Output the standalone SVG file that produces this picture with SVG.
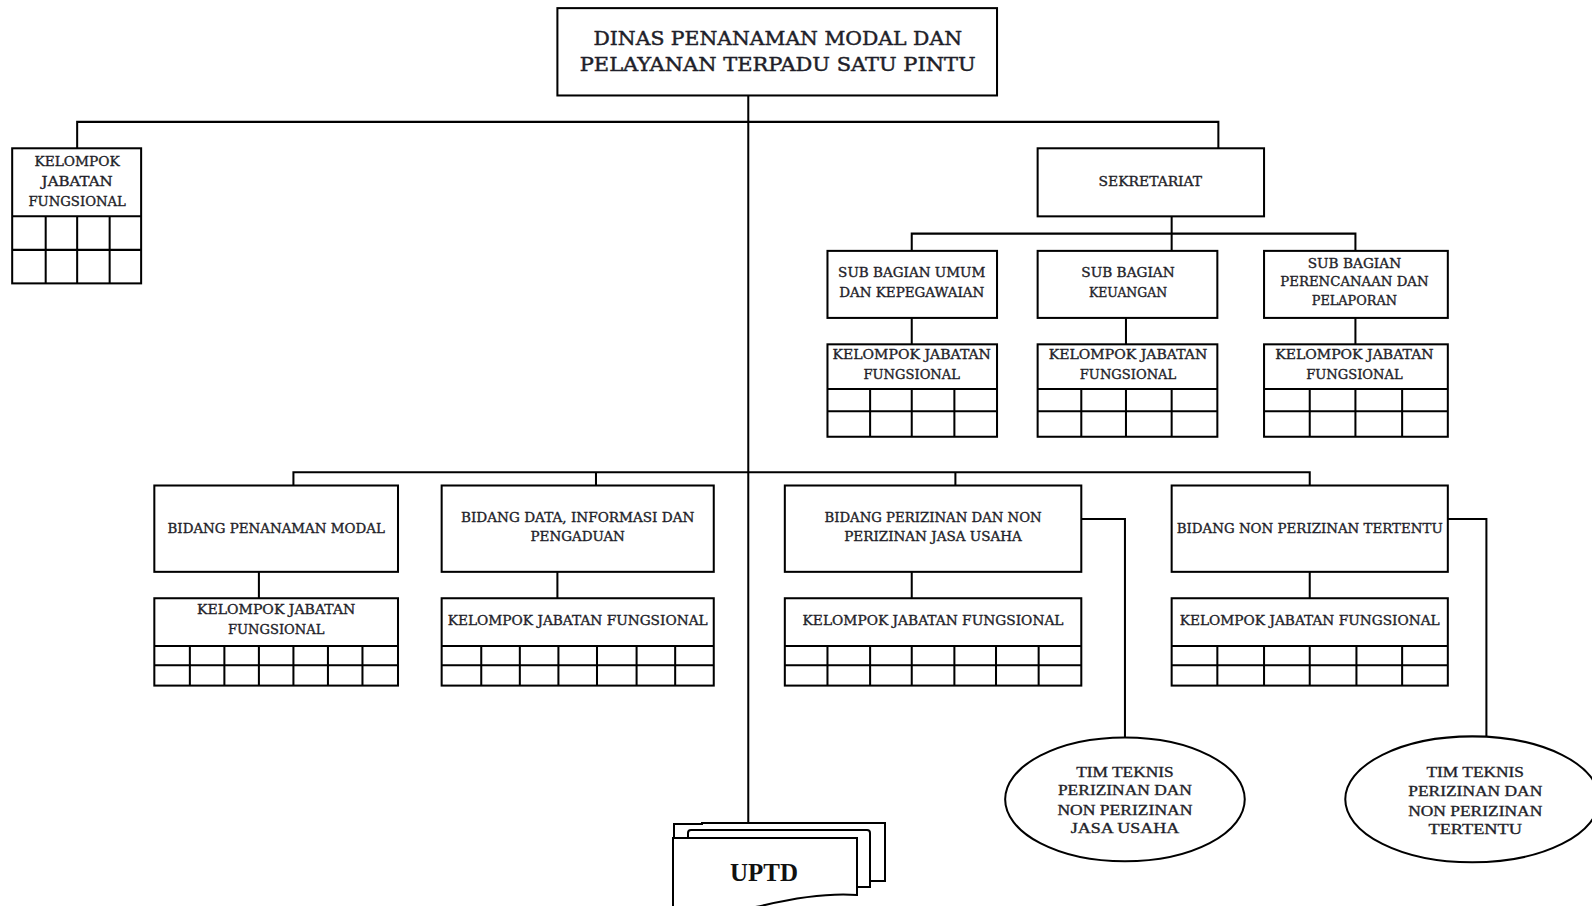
<svg xmlns="http://www.w3.org/2000/svg" width="1592" height="906" viewBox="0 0 1592 906">
<style>
.box{fill:#fff;stroke:#000;stroke-width:2}
.grid{fill:none;stroke:#000;stroke-width:2}
.conn{fill:none;stroke:#000;stroke-width:2}
.t{font-family:"DejaVu Serif","Liberation Serif",serif;font-size:12.5px;fill:#1f1f2a;stroke:#1f1f2a;stroke-width:0.35;text-anchor:middle}
.big{font-size:19px;stroke-width:0.45}
.el{font-family:"Liberation Serif","DejaVu Serif",serif;font-size:15px;fill:#1f1f2a;stroke:#1f1f2a;stroke-width:0.35;text-anchor:middle}
.uptd{font-family:"Liberation Serif","DejaVu Serif",serif;font-size:25px;font-weight:bold;fill:#111;text-anchor:middle}
</style>
<rect width="1592" height="906" fill="#fff"/>
<g transform="scale(1.0153,1.0157)">
<g id="connectors">
<path class="conn" d="M737,94V810"/>
<path class="conn" d="M76,146V120H1200V146"/>
<path class="conn" d="M1154,213V247"/>
<path class="conn" d="M898,247V230H1335V247"/>
<path class="conn" d="M898,313V339M1109,313V339M1335,313V339"/>
<path class="conn" d="M289,478V465H1290V478M587,465V478M941,465V478"/>
<path class="conn" d="M255,563V589M549,563V589M898,563V589M1290,563V589"/>
<path class="conn" d="M1065,511H1108V726"/>
<path class="conn" d="M1426,511H1464V727"/>
</g>
<g id="dinas">
<rect class="box" x="549" y="8" width="433" height="86"/>
<text class="t big" x="766" y="44" textLength="363" lengthAdjust="spacingAndGlyphs">DINAS PENANAMAN MODAL DAN</text>
<text class="t big" x="766" y="70" textLength="390" lengthAdjust="spacingAndGlyphs">PELAYANAN TERPADU SATU PINTU</text>
</g>
<g id="kjf-dinas">
<rect class="box" x="12" y="146" width="127" height="133"/>
<path class="grid" d="M12,213H139M12,246H139M45,213V279M76,213V279M108,213V279"/>
<text class="t" x="76" y="163.5" textLength="84" lengthAdjust="spacingAndGlyphs">KELOMPOK</text>
<text class="t" x="76" y="183.5" textLength="70" lengthAdjust="spacingAndGlyphs">JABATAN</text>
<text class="t" x="76" y="202.5" textLength="96" lengthAdjust="spacingAndGlyphs">FUNGSIONAL</text>
</g>
<g id="sekretariat">
<rect class="box" x="1022" y="146" width="223" height="67"/>
<text class="t" x="1133" y="183.5" textLength="102" lengthAdjust="spacingAndGlyphs">SEKRETARIAT</text>
</g>
<g id="subbag-umum">
<rect class="box" x="815" y="247" width="167" height="66"/>
<text class="t" x="898" y="272.5" textLength="145" lengthAdjust="spacingAndGlyphs">SUB BAGIAN UMUM</text>
<text class="t" x="898" y="292.5" textLength="143" lengthAdjust="spacingAndGlyphs">DAN KEPEGAWAIAN</text>
</g>
<g id="subbag-keuangan">
<rect class="box" x="1022" y="247" width="177" height="66"/>
<text class="t" x="1111" y="272.5" textLength="92" lengthAdjust="spacingAndGlyphs">SUB BAGIAN</text>
<text class="t" x="1111" y="292.5" textLength="77" lengthAdjust="spacingAndGlyphs">KEUANGAN</text>
</g>
<g id="subbag-perencanaan">
<rect class="box" x="1245" y="247" width="181" height="66"/>
<text class="t" x="1334" y="263.5" textLength="92" lengthAdjust="spacingAndGlyphs">SUB BAGIAN</text>
<text class="t" x="1334" y="281.5" textLength="146" lengthAdjust="spacingAndGlyphs">PERENCANAAN DAN</text>
<text class="t" x="1334" y="300.5" textLength="84" lengthAdjust="spacingAndGlyphs">PELAPORAN</text>
</g>
<g id="kjf-umum">
<rect class="box" x="815" y="339" width="167" height="91"/>
<path class="grid" d="M815,383H982M815,405H982M857,383V430M898,383V430M940,383V430"/>
<text class="t" x="898" y="353.5" textLength="156" lengthAdjust="spacingAndGlyphs">KELOMPOK JABATAN</text>
<text class="t" x="898" y="373.5" textLength="95" lengthAdjust="spacingAndGlyphs">FUNGSIONAL</text>
</g>
<g id="kjf-keuangan">
<rect class="box" x="1022" y="339" width="177" height="91"/>
<path class="grid" d="M1022,383H1199M1022,405H1199M1065,383V430M1109,383V430M1154,383V430"/>
<text class="t" x="1111" y="353.5" textLength="156" lengthAdjust="spacingAndGlyphs">KELOMPOK JABATAN</text>
<text class="t" x="1111" y="373.5" textLength="95" lengthAdjust="spacingAndGlyphs">FUNGSIONAL</text>
</g>
<g id="kjf-perencanaan">
<rect class="box" x="1245" y="339" width="181" height="91"/>
<path class="grid" d="M1245,383H1426M1245,405H1426M1290,383V430M1335,383V430M1381,383V430"/>
<text class="t" x="1334" y="353.5" textLength="156" lengthAdjust="spacingAndGlyphs">KELOMPOK JABATAN</text>
<text class="t" x="1334" y="373.5" textLength="95" lengthAdjust="spacingAndGlyphs">FUNGSIONAL</text>
</g>
<g id="bidang-penanaman">
<rect class="box" x="152" y="478" width="240" height="85"/>
<text class="t" x="272" y="524.5" textLength="214" lengthAdjust="spacingAndGlyphs">BIDANG PENANAMAN MODAL</text>
</g>
<g id="bidang-data">
<rect class="box" x="435" y="478" width="268" height="85"/>
<text class="t" x="569" y="513.5" textLength="230" lengthAdjust="spacingAndGlyphs">BIDANG DATA, INFORMASI DAN</text>
<text class="t" x="569" y="532.5" textLength="93" lengthAdjust="spacingAndGlyphs">PENGADUAN</text>
</g>
<g id="bidang-perizinan">
<rect class="box" x="773" y="478" width="292" height="85"/>
<text class="t" x="919" y="513.5" textLength="214" lengthAdjust="spacingAndGlyphs">BIDANG PERIZINAN DAN NON</text>
<text class="t" x="919" y="532.5" textLength="175" lengthAdjust="spacingAndGlyphs">PERIZINAN JASA USAHA</text>
</g>
<g id="bidang-non-perizinan">
<rect class="box" x="1154" y="478" width="272" height="85"/>
<text class="t" x="1290" y="524.5" textLength="262" lengthAdjust="spacingAndGlyphs">BIDANG NON PERIZINAN TERTENTU</text>
</g>
<g id="kjf-penanaman">
<rect class="box" x="152" y="589" width="240" height="86"/>
<path class="grid" d="M152,636H392M152,655H392M187,636V675M221,636V675M255,636V675M289,636V675M323,636V675M357,636V675"/>
<text class="t" x="272" y="604.5" textLength="156" lengthAdjust="spacingAndGlyphs">KELOMPOK JABATAN</text>
<text class="t" x="272" y="624.5" textLength="95" lengthAdjust="spacingAndGlyphs">FUNGSIONAL</text>
</g>
<g id="kjf-data">
<rect class="box" x="435" y="589" width="268" height="86"/>
<path class="grid" d="M435,636H703M435,655H703M474,636V675M512,636V675M550,636V675M588,636V675M627,636V675M665,636V675"/>
<text class="t" x="569" y="615.5" textLength="256" lengthAdjust="spacingAndGlyphs">KELOMPOK JABATAN FUNGSIONAL</text>
</g>
<g id="kjf-perizinan">
<rect class="box" x="773" y="589" width="292" height="86"/>
<path class="grid" d="M773,636H1065M773,655H1065M815,636V675M857,636V675M898,636V675M940,636V675M981,636V675M1023,636V675"/>
<text class="t" x="919" y="615.5" textLength="257" lengthAdjust="spacingAndGlyphs">KELOMPOK JABATAN FUNGSIONAL</text>
</g>
<g id="kjf-non-perizinan">
<rect class="box" x="1154" y="589" width="272" height="86"/>
<path class="grid" d="M1154,636H1426M1154,655H1426M1199,636V675M1245,636V675M1290,636V675M1336,636V675M1381,636V675"/>
<text class="t" x="1290" y="615.5" textLength="256" lengthAdjust="spacingAndGlyphs">KELOMPOK JABATAN FUNGSIONAL</text>
</g>
<g id="tim-teknis-jasa-usaha">
<ellipse class="box" cx="1108" cy="787" rx="118" ry="61" stroke-width="2.5"/>
<text class="el" x="1108" y="765" textLength="96" lengthAdjust="spacingAndGlyphs">TIM TEKNIS</text>
<text class="el" x="1108" y="783" textLength="132" lengthAdjust="spacingAndGlyphs">PERIZINAN DAN</text>
<text class="el" x="1108" y="802" textLength="133" lengthAdjust="spacingAndGlyphs">NON PERIZINAN</text>
<text class="el" x="1108" y="820" textLength="107" lengthAdjust="spacingAndGlyphs">JASA USAHA</text>
</g>
<g id="tim-teknis-tertentu">
<ellipse class="box" cx="1450" cy="787" rx="125" ry="62" stroke-width="2.5"/>
<text class="el" x="1453" y="765" textLength="96" lengthAdjust="spacingAndGlyphs">TIM TEKNIS</text>
<text class="el" x="1453" y="784" textLength="132" lengthAdjust="spacingAndGlyphs">PERIZINAN DAN</text>
<text class="el" x="1453" y="803" textLength="132" lengthAdjust="spacingAndGlyphs">NON PERIZINAN</text>
<text class="el" x="1453" y="821" textLength="92" lengthAdjust="spacingAndGlyphs">TERTENTU</text>
</g>
</g>
<g id="uptd">
<path class="box" d="M674,838V824H702V823H885V881H871"/>
<path class="box" d="M688,838V833Q688,830 691,830H867Q870,830 870,833V887H857"/>
<path class="box" d="M673,838H857V895C830,893 795,898 765,905C735,912 700,912 673,910Z"/>
<text class="uptd" x="764" y="881" textLength="68" lengthAdjust="spacingAndGlyphs">UPTD</text>
</g>
</svg>
